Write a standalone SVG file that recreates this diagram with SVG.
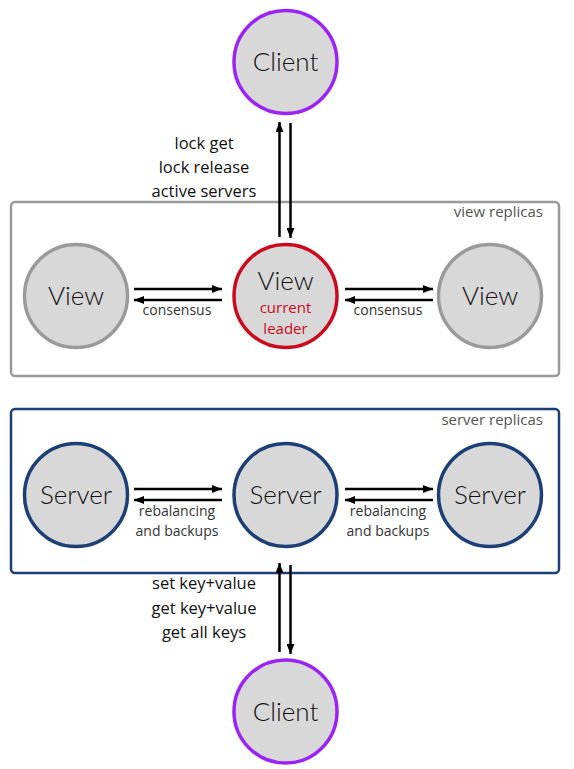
<svg xmlns="http://www.w3.org/2000/svg" width="574" height="769" viewBox="0 0 574 769">
<defs>
<marker id="ah" viewBox="0 0 10 8" refX="10" refY="4" markerWidth="10" markerHeight="8" markerUnits="userSpaceOnUse" orient="auto">
<path d="M0,0 L10,4 L0,8 Z" fill="#000"/>
</marker>
</defs>
<style>
text{font-family:"Open Sans","Liberation Sans",sans-serif;fill:#111}
.big{font-family:"Lato","Open Sans",sans-serif;font-size:26px;font-weight:300;text-anchor:middle}
.lbl{font-size:16.5px;text-anchor:middle}
.sm{font-size:14px;text-anchor:middle;fill:#333}
.grp{font-size:15px;text-anchor:end;fill:#555}
.red{font-size:15px;text-anchor:middle;fill:#cc0a1e}
.node{fill:#d8d8d8;stroke-width:3.5}
.client{stroke:#9b24f2}
.view{stroke:#9a9a9a}
.leader{stroke:#cc0a1e}
.server{stroke:#1c3f76}
.edge{stroke:#000;stroke-width:2.5;fill:none;marker-end:url(#ah)}
</style>
<rect id="view-replicas" x="11" y="202" width="548" height="174" rx="4" fill="none" stroke="#9a9a9a" stroke-width="2.5"/>
<text class="grp" x="543" y="217">view replicas</text>
<rect id="server-replicas" x="11" y="409" width="548" height="164" rx="4" fill="none" stroke="#1c3f76" stroke-width="2.5"/>
<text class="grp" x="543" y="425">server replicas</text>
<g id="connectors">
<line class="edge" x1="279.5" y1="237" x2="279.5" y2="122"/>
<line class="edge" x1="290.5" y1="123" x2="290.5" y2="238"/>
<line class="edge" x1="134" y1="289" x2="222" y2="289"/>
<line class="edge" x1="222" y1="300" x2="134" y2="300"/>
<line class="edge" x1="345" y1="289" x2="433" y2="289"/>
<line class="edge" x1="433" y1="300" x2="345" y2="300"/>
<line class="edge" x1="134" y1="489" x2="222" y2="489"/>
<line class="edge" x1="222" y1="500" x2="134" y2="500"/>
<line class="edge" x1="345" y1="489" x2="433" y2="489"/>
<line class="edge" x1="433" y1="500" x2="345" y2="500"/>
<line class="edge" x1="279.5" y1="652" x2="279.5" y2="563"/>
<line class="edge" x1="290.5" y1="565" x2="290.5" y2="654"/>
<text class="lbl" x="204" y="149">lock get</text>
<text class="lbl" x="204" y="173">lock release</text>
<text class="lbl" x="204" y="197">active servers</text>
<text class="sm" x="177" y="315">consensus</text>
<text class="sm" x="388" y="315">consensus</text>
<text class="sm" x="177" y="516">rebalancing</text>
<text class="sm" x="177" y="536">and backups</text>
<text class="sm" x="388" y="516">rebalancing</text>
<text class="sm" x="388" y="536">and backups</text>
<text class="lbl" x="204" y="589">set key+value</text>
<text class="lbl" x="204" y="614">get key+value</text>
<text class="lbl" x="204" y="638">get all keys</text>
</g>
<g id="client-top"><circle class="node client" cx="285.5" cy="62" r="51.5"/><text class="big" x="285.5" y="71">Client</text></g>
<g id="view-left"><circle class="node view" cx="76" cy="296" r="51.5"/><text class="big" x="76" y="305">View</text></g>
<g id="view-leader"><circle class="node leader" cx="285.5" cy="296" r="51.5"/><text class="big" x="285.5" y="290">View</text><text class="red" x="285.5" y="313">current</text><text class="red" x="285.5" y="334">leader</text></g>
<g id="view-right"><circle class="node view" cx="490" cy="296" r="51.5"/><text class="big" x="490" y="305">View</text></g>
<g id="server-left"><circle class="node server" cx="76" cy="495" r="51.5"/><text class="big" x="76" y="504">Server</text></g>
<g id="server-mid"><circle class="node server" cx="285.5" cy="495" r="51.5"/><text class="big" x="285.5" y="504">Server</text></g>
<g id="server-right"><circle class="node server" cx="490" cy="495" r="51.5"/><text class="big" x="490" y="504">Server</text></g>
<g id="client-bottom"><circle class="node client" cx="285.5" cy="711.5" r="51.5"/><text class="big" x="285.5" y="721">Client</text></g>
</svg>
